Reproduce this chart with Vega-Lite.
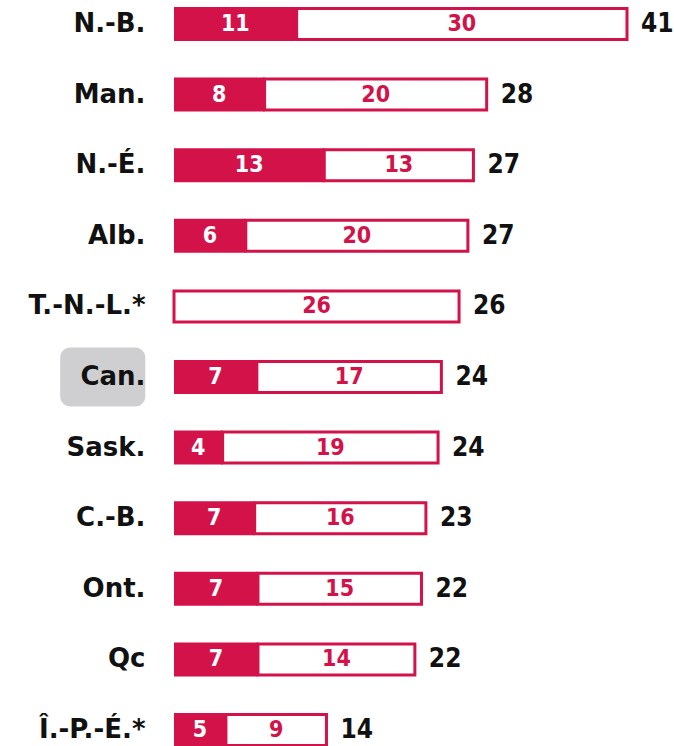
{
  "$schema": "https://vega.github.io/schema/vega-lite/v6.json",
  "width": 453,
  "height": 754,
  "autosize": {"type": "none"},
  "padding": {"left": 174, "top": 0, "right": 47, "bottom": 0},
  "background": "white",
  "config": {"view": {"stroke": null}, "font": "DejaVu Sans Condensed"},
  "data": {
    "values": [
      {"p": "N.-B.", "a": 11.1, "t": 41.0, "la": "11", "lb": "30", "lt": "41"},
      {"p": "Man.", "a": 8.2, "t": 28.3, "la": "8", "lb": "20", "lt": "28"},
      {"p": "N.-É.\u00a0", "a": 13.6, "t": 27.1, "la": "13", "lb": "13", "lt": "27"},
      {"p": "Alb.", "a": 6.5, "t": 26.6, "la": "6", "lb": "20", "lt": "27"},
      {"p": "T.-N.-L.*", "a": 0, "t": 25.8, "la": "", "lb": "26", "lt": "26"},
      {"p": "Can.", "a": 7.5, "t": 24.2, "la": "7", "lb": "17", "lt": "24"},
      {"p": "Sask.", "a": 4.4, "t": 23.9, "la": "4", "lb": "19", "lt": "24"},
      {"p": "C.-B.", "a": 7.3, "t": 22.8, "la": "7", "lb": "16", "lt": "23"},
      {"p": "Ont.", "a": 7.6, "t": 22.4, "la": "7", "lb": "15", "lt": "22"},
      {"p": "Qc", "a": 7.6, "t": 21.8, "la": "7", "lb": "14", "lt": "22"},
      {"p": "Î.-P.-É.*", "a": 4.7, "t": 13.8, "la": "5", "lb": "9", "lt": "14"}
    ]
  },
  "encoding": {
    "y": {
      "field": "p",
      "type": "nominal",
      "sort": ["N.-B.", "Man.", "N.-É.\u00a0", "Alb.", "T.-N.-L.*", "Can.", "Sask.", "C.-B.", "Ont.", "Qc", "Î.-P.-É.*"],
      "scale": {"paddingInner": 0.5, "paddingOuter": 0.09},
      "axis": {
        "title": null,
        "domain": false,
        "ticks": false,
        "labelPadding": 29,
        "labelFontSize": 26,
        "labelFontWeight": "bold",
        "labelColor": "#111111",
        "labelFont": "DejaVu Sans",
        "zindex": 1
      }
    }
  },
  "layer": [
    {
      "transform": [{"filter": "datum.p === 'Can.'"}],
      "mark": {"type": "bar", "color": "#CFCFD1", "cornerRadius": 10, "height": 59},
      "encoding": {
        "x": {"datum": -10.3, "type": "quantitative", "scale": {"domain": [0, 41]}, "axis": null},
        "x2": {"datum": -2.6}
      }
    },
    {
      "transform": [{"filter": "datum.a > 0"}],
      "mark": {"type": "bar", "color": "#D3124A", "height": 34},
      "encoding": {
        "x": {"field": "a", "type": "quantitative", "scale": {"domain": [0, 41]}, "axis": null}
      }
    },
    {
      "mark": {"type": "bar", "fill": "white", "stroke": "#D3124A", "strokeWidth": 3, "height": 31},
      "encoding": {
        "x": {"field": "a", "type": "quantitative", "scale": {"domain": [0, 41]}, "axis": null},
        "x2": {"field": "t"}
      }
    },
    {
      "transform": [{"filter": "datum.a > 0"}],
      "mark": {"type": "text", "color": "white", "fontSize": 23, "fontWeight": "bold", "baseline": "middle"},
      "encoding": {
        "x": {"field": "a", "type": "quantitative", "scale": {"domain": [0, 82]}, "axis": null},
        "text": {"field": "la"}
      }
    },
    {
      "transform": [
        {"fold": ["a", "t"], "as": ["k", "v"]},
        {"aggregate": [{"op": "mean", "field": "v", "as": "mid"}], "groupby": ["p", "lb"]}
      ],
      "mark": {"type": "text", "color": "#D3124A", "fontSize": 23, "fontWeight": "bold", "baseline": "middle"},
      "encoding": {
        "x": {"field": "mid", "type": "quantitative", "scale": {"domain": [0, 41]}, "axis": null},
        "text": {"field": "lb"}
      }
    },
    {
      "mark": {"type": "text", "color": "#111111", "fontSize": 26, "fontWeight": "bold", "align": "left", "baseline": "middle", "dx": 14},
      "encoding": {
        "x": {"field": "t", "type": "quantitative", "scale": {"domain": [0, 41]}, "axis": null},
        "text": {"field": "lt"}
      }
    }
  ],
  "resolve": {"scale": {"x": "independent"}}
}
